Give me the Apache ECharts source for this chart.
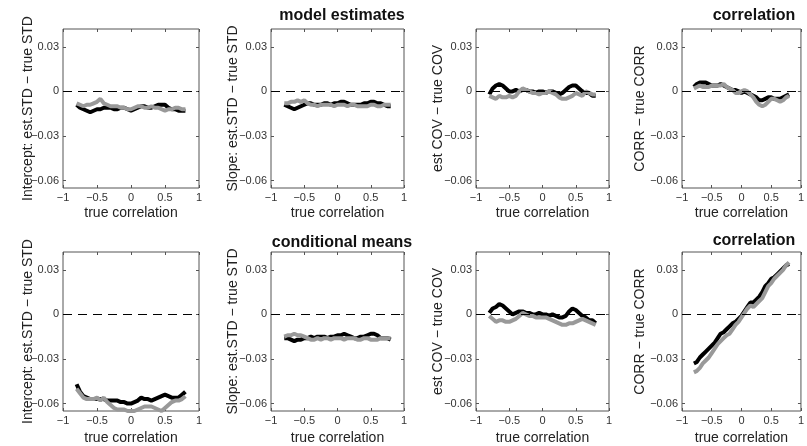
<!DOCTYPE html>
<html>
<head>
<meta charset="utf-8">
<script src="https://cdn.jsdelivr.net/npm/echarts@6/dist/echarts.min.js"></script>
<style>
  html, body { margin: 0; padding: 0; background: #fff; }
  #chart { width: 807px; height: 446px; }
</style>
</head>
<body>
<div id="chart"></div>
<script>
// true correlation values along the x axis
const trueCorr = [-0.8, -0.75, -0.7, -0.65, -0.6, -0.55, -0.5, -0.45, -0.4, -0.35, -0.3, -0.25, -0.2, -0.15, -0.1, -0.05,
  0, 0.05, 0.1, 0.15, 0.2, 0.25, 0.3, 0.35, 0.4, 0.45, 0.5, 0.55, 0.6, 0.65, 0.7, 0.75, 0.8]
const yTickValues = [-0.06, -0.03, 0, 0.03]

// row 1: model estimates
const interceptModelBlack = [-0.009, -0.011, -0.012, -0.013, -0.014, -0.013, -0.012, -0.012, -0.011, -0.011, -0.011, -0.012, -0.012, -0.011, -0.011, -0.012,
  -0.013, -0.012, -0.011, -0.010, -0.010, -0.011, -0.011, -0.010, -0.009, -0.009, -0.009, -0.011, -0.012, -0.012, -0.013, -0.013, -0.013]
const interceptModelGray = [-0.008, -0.009, -0.010, -0.009, -0.009, -0.008, -0.007, -0.005, -0.008, -0.009, -0.010, -0.010, -0.010, -0.011, -0.011, -0.012,
  -0.012, -0.011, -0.010, -0.010, -0.011, -0.011, -0.010, -0.011, -0.011, -0.012, -0.013, -0.012, -0.012, -0.011, -0.011, -0.012, -0.012]
const slopeModelBlack = [-0.009, -0.010, -0.011, -0.012, -0.011, -0.010, -0.009, -0.008, -0.008, -0.009, -0.009, -0.009, -0.008, -0.008, -0.009, -0.008,
  -0.008, -0.007, -0.007, -0.008, -0.009, -0.009, -0.009, -0.009, -0.008, -0.008, -0.007, -0.007, -0.008, -0.008, -0.009, -0.010, -0.010]
const slopeModelGray = [-0.008, -0.008, -0.007, -0.007, -0.006, -0.007, -0.006, -0.008, -0.009, -0.009, -0.010, -0.009, -0.009, -0.009, -0.009, -0.010,
  -0.009, -0.009, -0.009, -0.010, -0.009, -0.009, -0.010, -0.010, -0.010, -0.010, -0.009, -0.009, -0.010, -0.010, -0.009, -0.009, -0.009]
const covModelBlack = [-0.002, 0.002, 0.004, 0.005, 0.004, 0.002, 0.000, 0.000, 0.001, 0.000, 0.001, 0.001, 0.000, 0.000, -0.001, 0.000,
  0.000, -0.001, 0.000, 0.000, -0.001, -0.002, -0.001, 0.001, 0.003, 0.004, 0.004, 0.002, 0.000, -0.001, -0.001, -0.003, -0.003]
const covModelGray = [-0.003, -0.004, -0.005, -0.003, -0.004, -0.004, -0.003, -0.004, -0.003, 0.000, 0.002, 0.001, 0.000, -0.001, -0.001, -0.002,
  -0.001, -0.001, 0.000, -0.001, -0.002, -0.004, -0.005, -0.005, -0.004, -0.003, -0.001, -0.002, -0.003, 0.000, -0.001, -0.002, -0.002]
const corrModelBlack = [0.003, 0.005, 0.006, 0.006, 0.006, 0.005, 0.004, 0.004, 0.004, 0.005, 0.004, 0.003, 0.002, 0.001, 0.001, 0.000,
  -0.001, 0.000, -0.001, -0.002, -0.003, -0.004, -0.006, -0.006, -0.005, -0.004, -0.004, -0.005, -0.005, -0.005, -0.004, -0.003, -0.002]
const corrModelGray = [0.002, 0.003, 0.004, 0.003, 0.003, 0.003, 0.004, 0.004, 0.004, 0.004, 0.005, 0.003, 0.002, 0.001, -0.001, -0.001,
  0.000, 0.001, 0.000, -0.002, -0.004, -0.007, -0.009, -0.010, -0.009, -0.007, -0.005, -0.005, -0.006, -0.007, -0.006, -0.004, -0.003]

// row 2: conditional means
const interceptCondBlack = [-0.047, -0.052, -0.055, -0.056, -0.057, -0.057, -0.057, -0.057, -0.057, -0.058, -0.058, -0.058, -0.058, -0.059, -0.059, -0.060,
  -0.060, -0.059, -0.058, -0.056, -0.057, -0.057, -0.058, -0.057, -0.056, -0.055, -0.054, -0.055, -0.056, -0.056, -0.056, -0.054, -0.052]
const interceptCondGray = [-0.050, -0.053, -0.056, -0.057, -0.057, -0.057, -0.056, -0.058, -0.056, -0.059, -0.061, -0.063, -0.064, -0.064, -0.064, -0.065,
  -0.065, -0.065, -0.064, -0.063, -0.062, -0.062, -0.062, -0.063, -0.064, -0.065, -0.063, -0.061, -0.059, -0.058, -0.058, -0.057, -0.055]
const slopeCondBlack = [-0.016, -0.016, -0.017, -0.018, -0.017, -0.017, -0.016, -0.016, -0.015, -0.016, -0.015, -0.015, -0.015, -0.016, -0.015, -0.015,
  -0.014, -0.014, -0.013, -0.014, -0.015, -0.016, -0.016, -0.015, -0.015, -0.014, -0.013, -0.013, -0.014, -0.016, -0.016, -0.016, -0.017]
const slopeCondGray = [-0.015, -0.014, -0.014, -0.013, -0.014, -0.014, -0.015, -0.016, -0.017, -0.017, -0.016, -0.017, -0.016, -0.016, -0.017, -0.016,
  -0.016, -0.016, -0.017, -0.016, -0.016, -0.016, -0.017, -0.017, -0.016, -0.016, -0.017, -0.017, -0.017, -0.016, -0.016, -0.016, -0.016]
const covCondBlack = [0.001, 0.004, 0.005, 0.007, 0.006, 0.004, 0.002, 0.000, 0.001, 0.002, 0.002, 0.001, 0.001, 0.000, 0.000, 0.001,
  0.000, 0.000, -0.001, 0.000, -0.001, -0.002, -0.002, -0.001, 0.002, 0.004, 0.003, 0.001, -0.001, -0.002, -0.004, -0.004, -0.006]
const covCondGray = [-0.001, -0.003, -0.005, -0.004, -0.004, -0.005, -0.005, -0.004, -0.003, -0.001, 0.001, 0.000, -0.001, -0.001, -0.002, -0.002,
  -0.002, -0.002, -0.003, -0.004, -0.005, -0.006, -0.007, -0.007, -0.006, -0.006, -0.005, -0.004, -0.003, -0.004, -0.005, -0.006, -0.007]
const corrCondBlack = [-0.033, -0.032, -0.029, -0.027, -0.025, -0.023, -0.021, -0.019, -0.016, -0.013, -0.012, -0.010, -0.008, -0.006, -0.005, -0.003,
  -0.001, 0.002, 0.005, 0.008, 0.008, 0.010, 0.012, 0.015, 0.019, 0.021, 0.024, 0.025, 0.027, 0.029, 0.031, 0.033, 0.034]
const corrCondGray = [-0.039, -0.038, -0.036, -0.033, -0.031, -0.029, -0.026, -0.023, -0.020, -0.018, -0.016, -0.014, -0.013, -0.010, -0.007, -0.005,
  -0.002, 0.001, 0.004, 0.006, 0.005, 0.007, 0.009, 0.011, 0.015, 0.019, 0.021, 0.024, 0.026, 0.028, 0.030, 0.033, 0.035]

const yNames = ['Intercept: est.STD \u2212 true STD', 'Slope: est.STD \u2212 true STD', 'est COV \u2212 true COV', 'CORR \u2212 true CORR']
const xName = 'true correlation'

const panels = [
  [interceptModelBlack, interceptModelGray], [slopeModelBlack, slopeModelGray], [covModelBlack, covModelGray], [corrModelBlack, corrModelGray],
  [interceptCondBlack, interceptCondGray], [slopeCondBlack, slopeCondGray], [covCondBlack, covCondGray], [corrCondBlack, corrCondGray]
]

const colLeft = [63, 271, 476, 682]
const colWidth = [136, 133, 133, 135]
const colNameGap = [28, 31, 31, 35]
const rowTop = [29, 252]
const rowHeight = [159, 160]
const rowNameGap = [18, 20]

const fmt = v => (v < 0 ? '\u2212' : '') + Math.abs(v)
const font = 'Liberation Sans, Arial, Helvetica, sans-serif'

const grid = [], xAxis = [], yAxis = [], series = []
panels.forEach((p, i) => {
  const row = Math.floor(i / 4), col = i % 4
  grid.push({
    left: colLeft[col], top: rowTop[row], width: colWidth[col], height: rowHeight[row],
    show: true, borderColor: '#555', borderWidth: 1, backgroundColor: 'transparent'
  })
  const xBase = { gridIndex: i, type: 'value', min: -1, max: 1, interval: 0.5, splitLine: { show: false },
    axisLine: { show: false, onZero: false }, axisTick: { inside: true, length: 3, lineStyle: { color: '#555' } } }
  xAxis.push(Object.assign({}, xBase, {
    position: 'bottom',
    name: xName, nameLocation: 'middle', nameGap: rowNameGap[row], nameMoveOverlap: false,
    nameTextStyle: { fontFamily: font, fontSize: 14, color: '#222' },
    axisLabel: { formatter: fmt, fontFamily: font, fontSize: 11, color: '#333', margin: 4, showMinLabel: true, showMaxLabel: true }
  }))
  xAxis.push(Object.assign({}, xBase, { position: 'top', axisLabel: { show: false } }))
  const yBase = { gridIndex: i, type: 'value', min: -0.065, max: 0.042, splitLine: { show: false },
    axisLine: { show: false, onZero: false },
    axisTick: { inside: true, length: 3, customValues: yTickValues, lineStyle: { color: '#555' } } }
  yAxis.push(Object.assign({}, yBase, {
    position: 'left',
    name: yNames[col], nameLocation: 'middle', nameGap: colNameGap[col], nameMoveOverlap: false,
    nameTextStyle: { fontFamily: font, fontSize: 14, color: '#222' },
    axisLabel: { customValues: yTickValues, formatter: fmt, fontFamily: font, fontSize: 11, color: '#333', margin: 4 }
  }))
  yAxis.push(Object.assign({}, yBase, { position: 'right', axisLabel: { show: false } }))

  const pts = arr => trueCorr.map((x, k) => [x, arr[k]])
  series.push({
    type: 'line', xAxisIndex: 2 * i, yAxisIndex: 2 * i, data: pts(p[0]), showSymbol: false, clip: true,
    lineStyle: { color: '#000', width: 4 }, z: 3,
    markLine: { silent: true, symbol: 'none', label: { show: false },
      lineStyle: { color: '#000', width: 1, type: [9, 6] }, data: [{ yAxis: 0 }] }
  })
  series.push({
    type: 'line', xAxisIndex: 2 * i, yAxisIndex: 2 * i, data: pts(p[1]), showSymbol: false, clip: true,
    lineStyle: { color: '#999', width: 4 }, z: 4
  })
})

const titleStyle = { fontFamily: font, fontSize: 16, fontWeight: 'bold', color: '#111' }
const title = [
  { text: 'model estimates', left: 337, top: 3, textAlign: 'center', textStyle: titleStyle },
  { text: 'correlation', left: 749, top: 3, textAlign: 'center', textStyle: titleStyle },
  { text: 'conditional means', left: 337, top: 230, textAlign: 'center', textStyle: titleStyle },
  { text: 'correlation', left: 749, top: 228, textAlign: 'center', textStyle: titleStyle }
]

const chart = echarts.init(document.getElementById('chart'))
chart.setOption({ animation: false, title, grid, xAxis, yAxis, series })
</script>
</body>
</html>
